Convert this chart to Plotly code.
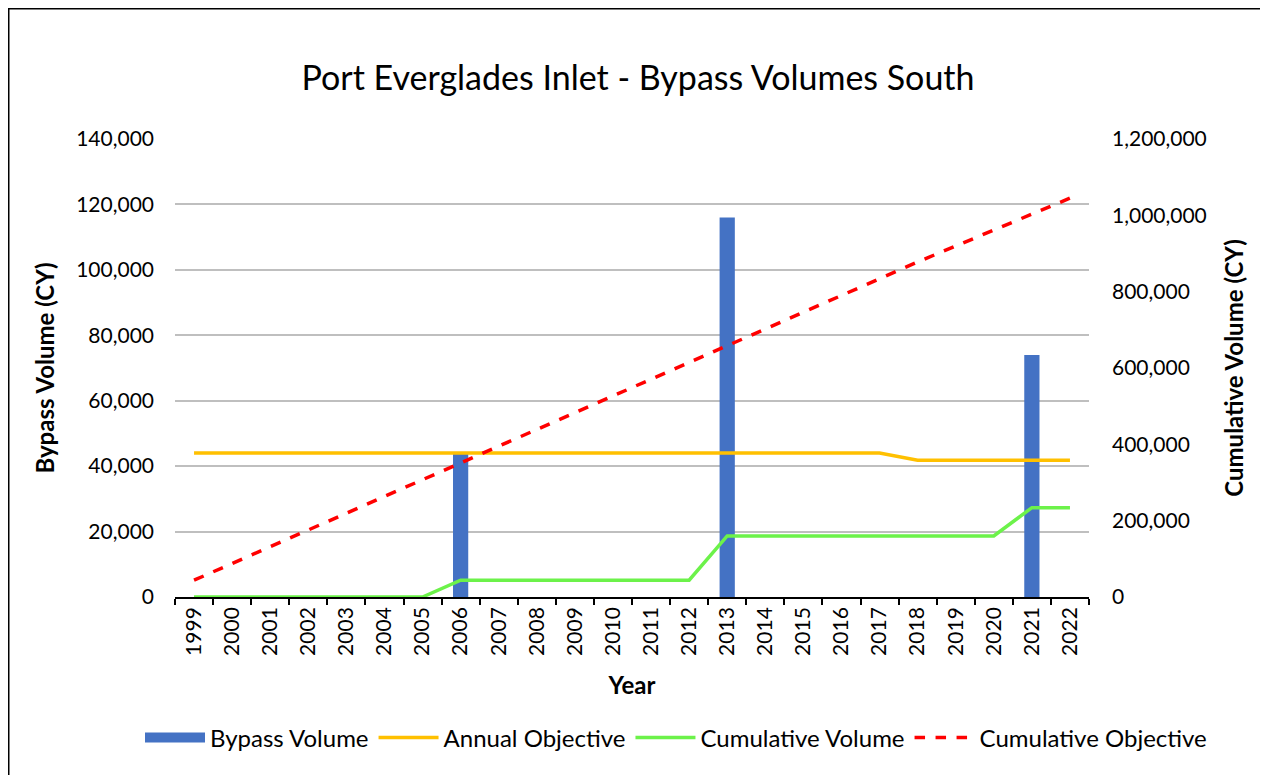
import plotly.graph_objects as go

years = [str(y) for y in range(1999, 2023)]
bypass_volume = [None] * 7 + [44000] + [None] * 6 + [116000] + [None] * 7 + [74000, None]
annual_objective = [44000] * 19 + [41800] * 5
cumulative_volume = [0] * 7 + [44000] * 7 + [160000] * 8 + [234000] * 2
cumulative_objective = [44000 * (i + 1) for i in range(19)] + [836000 + 41800 * (i + 1) for i in range(5)]

# page has an 8px body margin, so figure coords = screen coords - 8
OFF = 8
W, H = 1268 - OFF, 775 - OFF
L, R, T, B = 175 - OFF, 1089 - OFF, 139 - OFF, 597 - OFF
font = 'Lato, Calibri, sans-serif'


def px_x(p):
    return (p - OFF - L) / (R - L)


def px_y(p):
    return (B - (p - OFF)) / (B - T)


fig = go.Figure()
fig.add_trace(go.Bar(x=years, y=bypass_volume, name='Bypass Volume', showlegend=False,
                     marker_color='#4472C4', marker_line_width=0))
# wide blue swatch for the legend, like Excel's
fig.add_trace(go.Scatter(x=[None], y=[None], name='Bypass Volume', mode='lines',
                         line=dict(color='#4472C4', width=15)))
fig.add_trace(go.Scatter(x=years, y=annual_objective, name='Annual Objective', mode='lines',
                         line=dict(color='#FFC000', width=3.5)))
fig.add_trace(go.Scatter(x=years, y=cumulative_volume, name='Cumulative Volume', mode='lines',
                         line=dict(color='#6CF24A', width=3.5), yaxis='y2'))
fig.add_trace(go.Scatter(x=years, y=cumulative_objective, name='Cumulative Objective', mode='lines',
                         line=dict(color='#FF0000', width=3.5, dash='dash'), yaxis='y2'))

# frame around the whole chart
fig.add_shape(type='rect', xref='paper', yref='paper',
              x0=px_x(8), x1=px_x(1290), y0=px_y(800), y1=px_y(8),
              line=dict(color='black', width=3), layer='below')

fig.update_layout(
    width=W, height=H,
    margin=dict(l=L, r=W - R, t=T, b=H - B, autoexpand=False),
    plot_bgcolor='white', paper_bgcolor='white',
    font=dict(family=font, size=21, color='black'),
    title=dict(text='Port Everglades Inlet - Bypass Volumes South', x=0.5, xanchor='center',
               y=1 - (78 - OFF) / H, yanchor='middle', font=dict(size=34)),
    bargap=0.6,
    showlegend=True,
    # anchored right of the plot area so it can stay on one row
    legend=dict(orientation='h', x=px_x(1212), xanchor='right',
                y=px_y(738), yanchor='middle', itemwidth=60,
                font=dict(size=24), traceorder='normal'),
    xaxis=dict(type='category', showgrid=False, showline=True, linecolor='black', linewidth=1.5,
               ticks='outside', tickson='boundaries', ticklen=6, tickcolor='black', tickwidth=1.5,
               tickangle=-90, tickfont=dict(size=21), automargin=False,
               title=dict(text='<b>Year</b>', font=dict(size=24), standoff=22)),
    yaxis=dict(range=[0, 140000], dtick=20000, tickformat=',d', showgrid=True,
               gridcolor='#BFBFBF', gridwidth=1.5, zeroline=False, showline=False,
               ticklabelstandoff=20, tickfont=dict(size=21), automargin=False,
               title=dict(text='<b>Bypass Volume (CY)</b>', font=dict(size=24), standoff=14)),
    yaxis2=dict(range=[0, 1200000], dtick=200000, tickformat=',d', overlaying='y', side='right',
                showgrid=False, zeroline=False, showline=False, ticklabelstandoff=22,
                tickfont=dict(size=21), automargin=False,
                title=dict(text='<b>Cumulative Volume (CY)</b>', font=dict(size=24), standoff=20)),
)

fig.write_html('out.html')
